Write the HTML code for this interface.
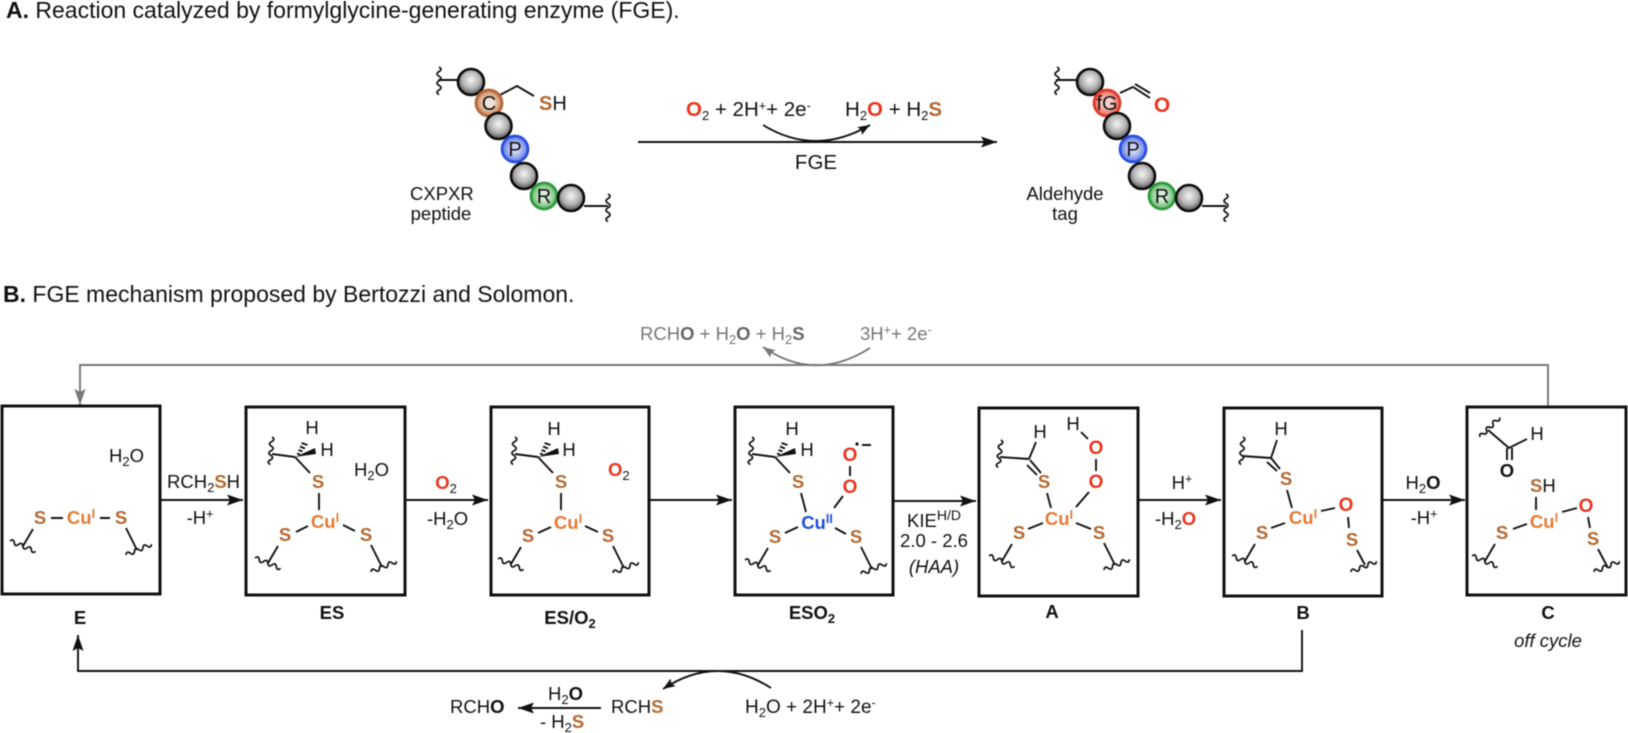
<!DOCTYPE html>
<html><head><meta charset="utf-8"><style>
html,body{margin:0;padding:0;background:#fff;width:1628px;height:733px;overflow:hidden}
svg{display:block;filter:blur(.4px)}
text{font-family:"Liberation Sans",sans-serif;font-size:18.5px;fill:#111}
.m{text-anchor:middle}
.b{font-weight:bold}
.S{font-weight:bold;fill:#b4682f;text-anchor:middle}
.Ss{font-weight:bold;fill:#b4682f}
.O{font-weight:bold;fill:#e8351f;text-anchor:middle;font-size:19px}
.Os{font-weight:bold;fill:#e8351f}
.Cu{font-weight:bold;fill:#e57a35;text-anchor:middle;font-size:18.5px}
.CuB{font-weight:bold;fill:#1f4fe0;text-anchor:middle}
.sp{font-size:12.5px}
.sb{font-size:13px}
.l{stroke:#111;stroke-width:1.9;fill:none}
.box{stroke:#111;stroke-width:3;fill:#fff}
.g text,.g{fill:#777}
.g .b{fill:#666}
.ball{stroke:#0c0c0c;stroke-width:2.6;fill:url(#gy)}
.t{font-size:23px}
.a{font-size:20.5px}
.ps{font-size:20px}
</style></head><body>
<svg width="1628" height="733" viewBox="0 0 1628 733" xmlns="http://www.w3.org/2000/svg">
<defs>
<radialGradient id="gy" cx=".5" cy=".42" r=".62"><stop offset="0" stop-color="#f6f6f6"/><stop offset=".55" stop-color="#b0b0b0"/><stop offset="1" stop-color="#3c3c3c"/></radialGradient>
<radialGradient id="br" cx=".5" cy=".5" r=".55"><stop offset=".3" stop-color="#f0e2d8"/><stop offset="1" stop-color="#c2713c"/></radialGradient>
<radialGradient id="bl" cx=".5" cy=".5" r=".55"><stop offset=".3" stop-color="#c9d2f4"/><stop offset="1" stop-color="#4a68e6"/></radialGradient>
<radialGradient id="gr" cx=".5" cy=".5" r=".55"><stop offset=".3" stop-color="#d4ecd6"/><stop offset="1" stop-color="#4fae58"/></radialGradient>
<radialGradient id="rd" cx=".5" cy=".5" r=".55"><stop offset=".3" stop-color="#f6cfc8"/><stop offset="1" stop-color="#e8503e"/></radialGradient>
<marker id="ah" markerUnits="userSpaceOnUse" markerWidth="17" markerHeight="12" refX="16" refY="5.5" orient="auto"><path d="M0 0L16 5.5 0 11 3 5.5z" fill="#111"/></marker>
<marker id="as" markerUnits="userSpaceOnUse" markerWidth="13" markerHeight="10" refX="12" refY="4.5" orient="auto"><path d="M0 0L12 4.5 0 9 2 4.5z" fill="#111"/></marker>
<marker id="ag" markerUnits="userSpaceOnUse" markerWidth="17" markerHeight="12" refX="16" refY="5.5" orient="auto"><path d="M0 0L16 5.5 0 11 3 5.5z" fill="#777"/></marker>
<marker id="asg" markerUnits="userSpaceOnUse" markerWidth="13" markerHeight="10" refX="12" refY="4.5" orient="auto"><path d="M0 0L12 4.5 0 9 2 4.5z" fill="#777"/></marker>
<path id="w" d="M0 0q2.3-4 4.6 0t4.6 0 4.6 0 4.6 0 4.6 0 4.6 0" fill="none" stroke="#111" stroke-width="1.7"/>
<g id="L"><path class="l" d="M-7 11L-17 28"/><use href="#w" transform="translate(-30 23) rotate(22)"/></g>
<g id="R"><path class="l" d="M5 10L16 32"/><use href="#w" transform="translate(5 37) rotate(-23)"/></g>
<g id="T"><path class="l" d="M-23-25L-46-28M-23-25L-8-9"/><use href="#w" transform="translate(-46 -45) rotate(94)"/>
<polygon points="-23,-25 -3,-34 -2,-28" fill="#111"/>
<path class="l" d="M-21-28.5l3 1M-19.5-32l4 1.5M-18-35.5l5 2M-16.5-39l6 2"/></g>
</defs>

<!-- Panel A -->
<text class="t" x="6" y="18"><tspan class="b">A.</tspan> Reaction catalyzed by formylglycine-generating enzyme (FGE).</text>

<use href="#w" transform="translate(439 67) rotate(90)"/>
<path class="l" d="M438 80H460M500 95L517 86L534 96"/>
<circle class="ball" cx="471" cy="82" r="13"/>
<circle cx="489" cy="103" r="13" fill="url(#br)" stroke="#b5683a" stroke-width="2.8"/>
<circle class="ball" cx="498.5" cy="126" r="13"/>
<circle cx="515" cy="149" r="13" fill="url(#bl)" stroke="#2a4fe0" stroke-width="2.8"/>
<circle class="ball" cx="524" cy="176" r="13"/>
<circle cx="544" cy="196" r="13" fill="url(#gr)" stroke="#2f9a3e" stroke-width="2.8"/>
<path class="l" d="M584 206H608"/>
<use href="#w" transform="translate(608 194) rotate(90)"/>
<circle class="ball" cx="571" cy="198" r="13"/>
<text class="m ps" x="489" y="110">C</text><text class="m ps" x="515" y="156">P</text><text class="m ps" x="544" y="203">R</text>
<text class="ps" x="539" y="110"><tspan class="Ss">S</tspan>H</text>
<text x="410" y="200">CXPXR</text><text class="m" x="441" y="220">peptide</text>

<path class="l" d="M638 142H997" marker-end="url(#ah)"/>
<path class="l" d="M763 125Q815 157 870 125" marker-end="url(#as)"/>
<text class="a" x="686" y="116"><tspan class="Os">O</tspan><tspan class="sb" dy="4">2</tspan><tspan dy="-4"> + 2H</tspan><tspan class="sp" dy="-6">+</tspan><tspan dy="6">+ 2e</tspan><tspan class="sp" dy="-6">-</tspan></text>
<text class="a" x="845" y="116">H<tspan class="sb" dy="4">2</tspan><tspan class="Os" dy="-4">O</tspan> + H<tspan class="sb" dy="4">2</tspan><tspan class="Ss" dy="-4">S</tspan></text>
<text class="m a" x="816" y="169">FGE</text>

<use href="#w" transform="translate(1057 67) rotate(90)"/>
<path class="l" d="M1056 80H1078M1120 93L1133 87L1150 98M1135 84L1150 93"/>
<circle class="ball" cx="1090" cy="82" r="13"/>
<circle cx="1107" cy="103" r="13" fill="url(#rd)" stroke="#e03a2a" stroke-width="2.8"/>
<circle class="ball" cx="1117" cy="126" r="13"/>
<circle cx="1133" cy="149" r="13" fill="url(#bl)" stroke="#2a4fe0" stroke-width="2.8"/>
<circle class="ball" cx="1142" cy="176" r="13"/>
<circle cx="1162" cy="196" r="13" fill="url(#gr)" stroke="#2f9a3e" stroke-width="2.8"/>
<path class="l" d="M1202 206H1226"/>
<use href="#w" transform="translate(1226 194) rotate(90)"/>
<circle class="ball" cx="1189" cy="198" r="13"/>
<text class="m ps" x="1107" y="110">fG</text><text class="m ps" x="1133" y="156">P</text><text class="m ps" x="1162" y="203">R</text>
<text class="O" x="1162" y="112" style="font-size:21px">O</text>
<text class="m" x="1065" y="200">Aldehyde</text><text class="m" x="1065" y="220">tag</text>

<!-- Panel B -->
<text class="t" x="3" y="302"><tspan class="b">B.</tspan> FGE mechanism proposed by Bertozzi and Solomon.</text>

<g class="g">
<text x="640" y="340">RCH<tspan class="b">O</tspan> + H<tspan class="sb" dy="4">2</tspan><tspan class="b" dy="-4">O</tspan> + H<tspan class="sb" dy="4">2</tspan><tspan class="b" dy="-4">S</tspan></text>
<text x="860" y="340">3H<tspan class="sp" dy="-6">+</tspan><tspan dy="6">+ 2e</tspan><tspan class="sp" dy="-6">-</tspan></text>
</g>
<path d="M1548 407V365H80V405" fill="none" stroke="#777" stroke-width="1.9" marker-end="url(#ag)"/>
<path d="M870 348Q815 383 763 347" fill="none" stroke="#777" stroke-width="1.9" marker-end="url(#asg)"/>

<path class="l" d="M1302 630V671H78V635" marker-end="url(#ah)"/>
<path class="l" d="M771 688Q717 653.5 663 689" marker-end="url(#as)"/>
<path class="l" d="M601 708H518" marker-end="url(#ah)"/>
<text x="450" y="713">RCH<tspan class="b">O</tspan></text>
<text x="611" y="713">RCH<tspan class="Ss">S</tspan></text>
<text x="745" y="713" style="font-size:19px">H<tspan class="sb" dy="4">2</tspan><tspan dy="-4">O + 2H</tspan><tspan class="sp" dy="-6">+</tspan><tspan dy="6">+ 2e</tspan><tspan class="sp" dy="-6">-</tspan></text>
<text x="548" y="700">H<tspan class="sb" dy="4">2</tspan><tspan class="b" dy="-4">O</tspan></text>
<text x="540" y="728">- H<tspan class="sb" dy="4">2</tspan><tspan class="Ss" dy="-4">S</tspan></text>

<!-- Boxes -->
<rect class="box" x="2" y="406" width="158" height="188"/>
<rect class="box" x="246" y="407" width="159" height="188"/>
<rect class="box" x="491" y="407" width="158" height="188"/>
<rect class="box" x="735" y="407" width="158" height="188"/>
<rect class="box" x="979" y="408" width="159" height="188"/>
<rect class="box" x="1224" y="408" width="158" height="188"/>
<rect class="box" x="1467" y="407" width="159" height="188"/>

<!-- Step arrows -->
<path class="l" d="M161 500H243" marker-end="url(#ah)"/>
<path class="l" d="M405 500H488" marker-end="url(#ah)"/>
<path class="l" d="M650 500H732" marker-end="url(#ah)"/>
<path class="l" d="M893 501H976" marker-end="url(#ah)"/>
<path class="l" d="M1138 500H1221" marker-end="url(#ah)"/>
<path class="l" d="M1382 500H1465" marker-end="url(#ah)"/>

<text x="167" y="488">RCH<tspan class="sb" dy="4">2</tspan><tspan class="Ss" dy="-4">S</tspan>H</text>
<text class="m" x="200" y="524">-H<tspan class="sp" dy="-6">+</tspan></text>
<text class="m" x="446" y="489"><tspan class="Os">O</tspan><tspan class="sb" dy="4">2</tspan></text>
<text x="427" y="525">-H<tspan class="sb" dy="4">2</tspan><tspan dy="-4">O</tspan></text>
<text x="907" y="527">KIE<tspan class="sp" dy="-7" style="font-size:14px">H/D</tspan></text>
<text class="m" x="934" y="547">2.0 - 2.6</text>
<text class="m" x="934" y="573" font-style="italic">(HAA)</text>
<text class="m" x="1182" y="489">H<tspan class="sp" dy="-6">+</tspan></text>
<text x="1155" y="525">-H<tspan class="sb" dy="4">2</tspan><tspan class="Os" dy="-4">O</tspan></text>
<text class="m" x="1423" y="489">H<tspan class="sb" dy="4">2</tspan><tspan class="b" dy="-4">O</tspan></text>
<text class="m" x="1424" y="524">-H<tspan class="sp" dy="-6">+</tspan></text>

<!-- E -->
<text x="109" y="462">H<tspan class="sb" dy="4">2</tspan><tspan dy="-4">O</tspan></text>
<path class="l" d="M51 518H63M100 518H110"/>
<use href="#L" x="40" y="518"/><use href="#R" x="121" y="518"/>
<text class="S" x="40" y="524">S</text><text class="S" x="121" y="524">S</text>
<text class="Cu" x="81" y="524">Cu<tspan class="sp" dy="-6">I</tspan></text>

<!-- ES -->
<text x="354" y="476">H<tspan class="sb" dy="4">2</tspan><tspan dy="-4">O</tspan></text>
<use href="#T" x="318" y="482"/>
<text class="m" x="312" y="434">H</text><text class="m" x="327" y="456">H</text>
<path class="l" d="M319 493V510M296 532L308 526M343 525L355 531"/>
<use href="#L" x="285" y="535"/><use href="#R" x="366" y="535"/>
<text class="S" x="318" y="488">S</text><text class="S" x="285" y="541">S</text><text class="S" x="366" y="541">S</text>
<text class="Cu" x="325" y="528">Cu<tspan class="sp" dy="-6">I</tspan></text>

<!-- ES/O2 -->
<text x="608" y="476"><tspan class="Os">O</tspan><tspan class="sb" dy="4">2</tspan></text>
<use href="#T" x="561" y="482"/>
<text class="m" x="554" y="435">H</text><text class="m" x="569" y="456">H</text>
<path class="l" d="M561 493V510M538 533L551 527M585 526L598 532"/>
<use href="#L" x="528" y="536"/><use href="#R" x="608" y="536"/>
<text class="S" x="561" y="488">S</text><text class="S" x="528" y="542">S</text><text class="S" x="608" y="542">S</text>
<text class="Cu" x="568" y="529">Cu<tspan class="sp" dy="-6">I</tspan></text>

<!-- ESO2 -->
<use href="#T" x="798" y="482"/>
<text class="m" x="792" y="435">H</text><text class="m" x="807" y="456">H</text>
<path class="l" d="M801 493L806 512M785 533L798 527M835 528L846 534M834 508L843 496M850 466V476M862 445H871"/>
<circle cx="857" cy="444" r="1.6" fill="#111"/>
<use href="#L" x="775" y="537"/><use href="#R" x="856" y="537"/>
<text class="S" x="798" y="488">S</text><text class="S" x="775" y="543">S</text><text class="S" x="856" y="543">S</text>
<text class="O" x="850" y="461">O</text><text class="O" x="850" y="493">O</text>
<text class="CuB" x="817" y="529">Cu<tspan class="sp" dy="-6">II</tspan></text>

<!-- A -->
<path class="l" d="M1029 459L1000 457M1029 459L1036 442M1027 465L1037 475M1030 460L1041 473M1047 493L1051 508M1081 432L1088 439M1096 459V471M1089 492L1076 507M1028 529L1043 523M1076 523L1091 529"/>
<use href="#w" transform="translate(1001 440) rotate(96)"/>
<use href="#L" x="1019" y="533"/><use href="#R" x="1099" y="533"/>
<text class="m" x="1040" y="438">H</text><text class="m" x="1073" y="430">H</text>
<text class="S" x="1044" y="488">S</text><text class="S" x="1019" y="539">S</text><text class="S" x="1099" y="539">S</text>
<text class="O" x="1096" y="454">O</text><text class="O" x="1096" y="488">O</text>
<text class="Cu" x="1059" y="525">Cu<tspan class="sp" dy="-6">I</tspan></text>

<!-- B -->
<path class="l" d="M1271 458L1242 456M1271 458L1277 440M1267 462L1277 471M1271 458L1280 469M1287 490L1292 508M1271 528L1285 523M1321 511L1335 508M1348 517L1349 528M1357 550L1365 565"/>
<use href="#w" transform="translate(1243 437) rotate(94)"/>
<use href="#w" transform="translate(1351 572) rotate(-23)"/>
<use href="#L" x="1262" y="533"/>
<text class="m" x="1281" y="435">H</text>
<text class="S" x="1286" y="485">S</text><text class="S" x="1262" y="539">S</text><text class="S" x="1352" y="546">S</text>
<text class="O" x="1346" y="511">O</text>
<text class="Cu" x="1303" y="524">Cu<tspan class="sp" dy="-6">I</tspan></text>

<!-- C -->
<use href="#w" transform="translate(1480 437) rotate(-45)"/>
<path class="l" d="M1488 430L1509 448L1527 439M1507 448V460M1512 448V460M1536 497V510M1513 529L1527 524M1562 512L1577 508M1588 517L1590 528M1598 549L1608 568"/>
<use href="#w" transform="translate(1594 572) rotate(-23)"/>
<use href="#L" x="1502" y="533"/>
<text class="m" x="1537" y="440">H</text>
<text class="b m" x="1507" y="477">O</text>
<text x="1530" y="492"><tspan class="Ss">S</tspan>H</text>
<text class="S" x="1502" y="539">S</text><text class="S" x="1593" y="545">S</text>
<text class="O" x="1586" y="512">O</text>
<text class="Cu" x="1544" y="528">Cu<tspan class="sp" dy="-6">I</tspan></text>

<!-- Labels -->
<text class="b m" x="80" y="624">E</text>
<text class="b m" x="332" y="619">ES</text>
<text class="b m" x="570" y="624">ES/O<tspan class="sb" dy="4">2</tspan></text>
<text class="b m" x="812" y="619">ESO<tspan class="sb" dy="4">2</tspan></text>
<text class="b m" x="1052" y="618">A</text>
<text class="b m" x="1303" y="619">B</text>
<text class="b m" x="1548" y="619">C</text>
<text class="m" x="1548" y="647" font-style="italic">off cycle</text>
</svg>
</body></html>
